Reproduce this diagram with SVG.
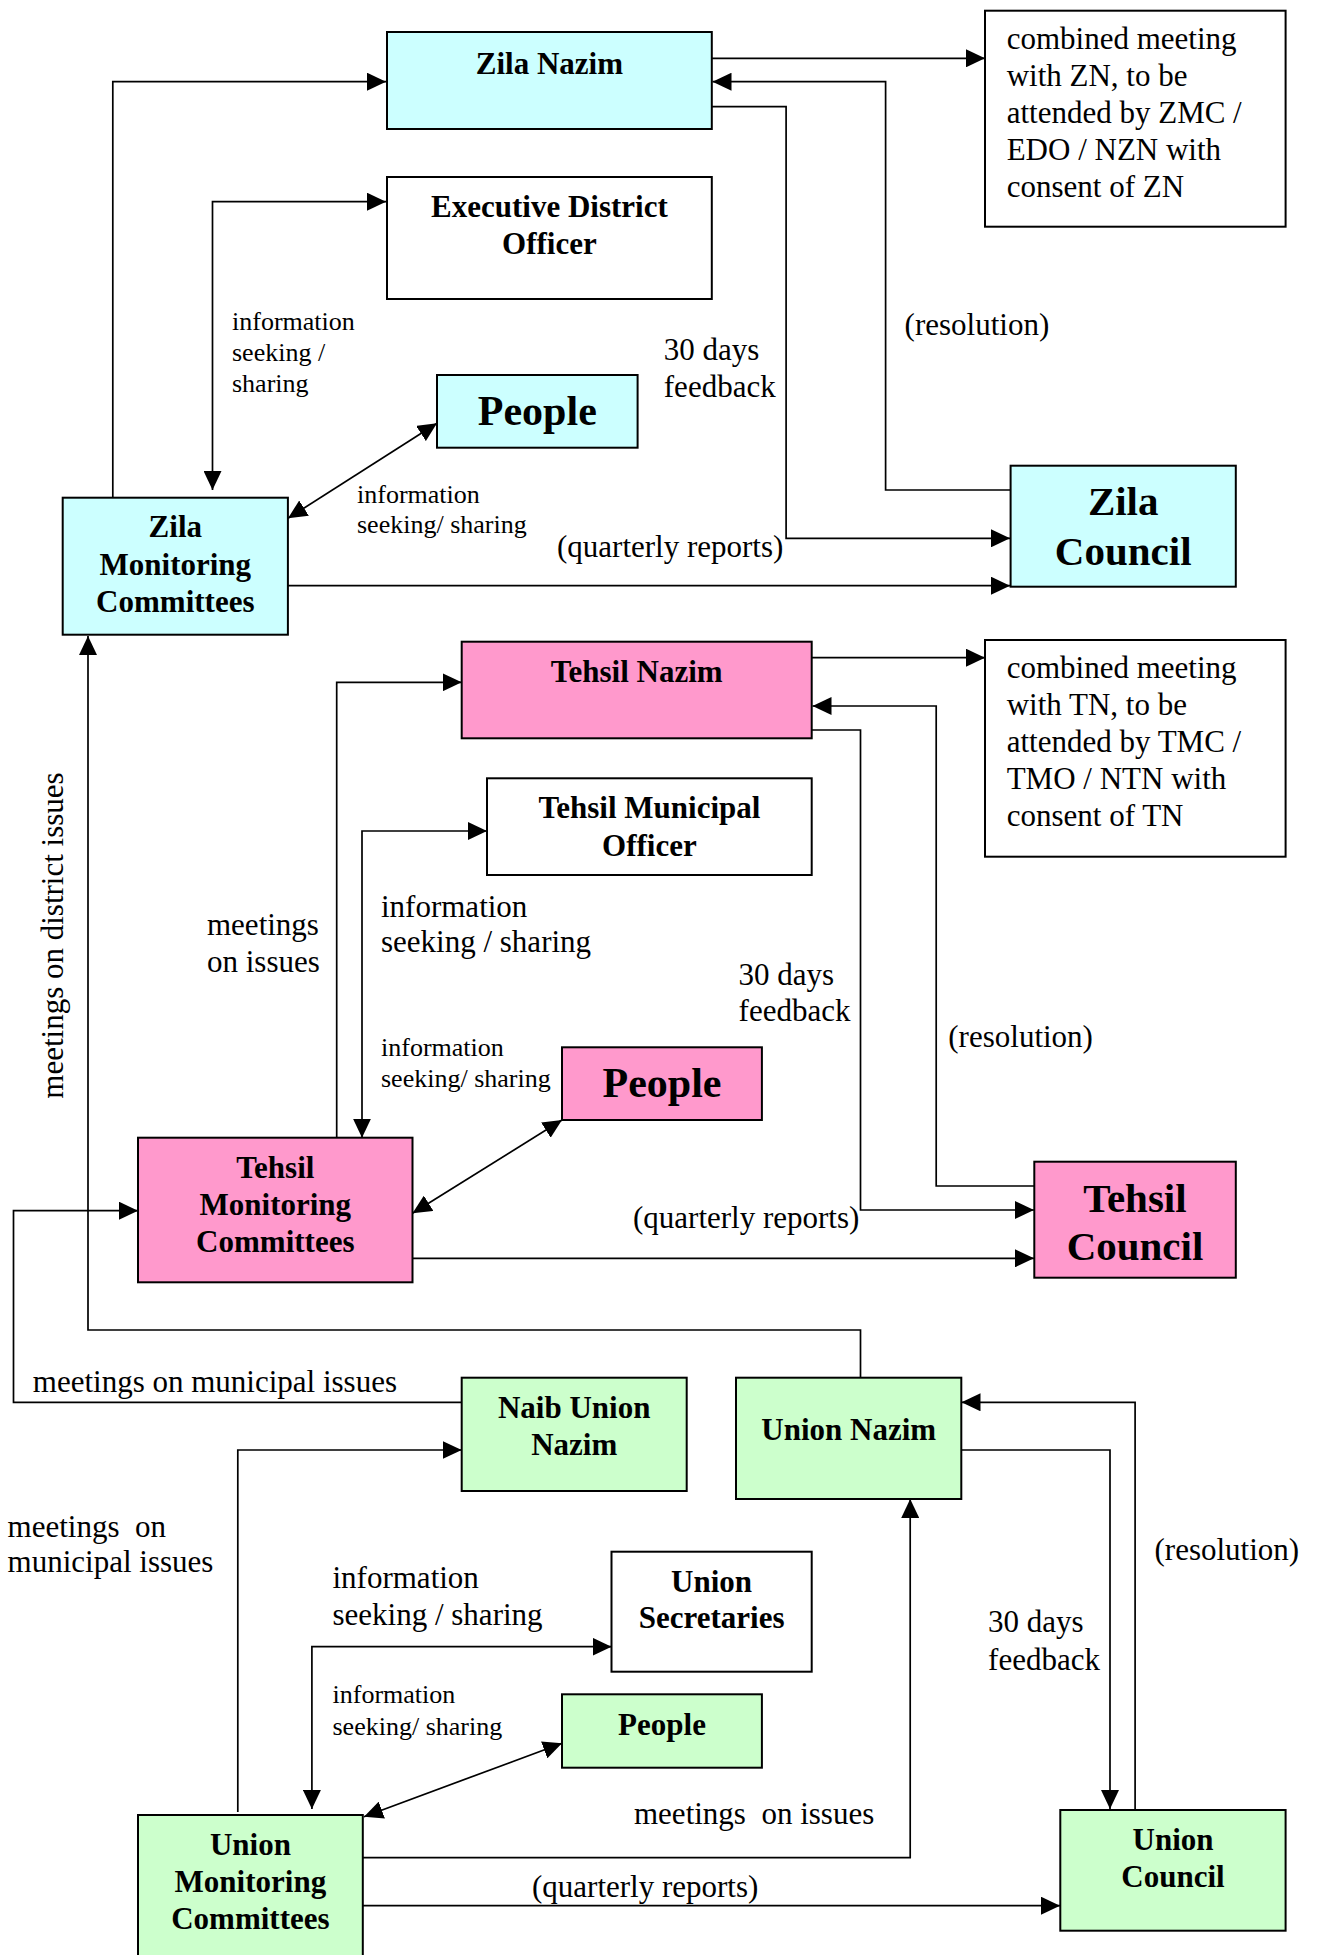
<svg xmlns="http://www.w3.org/2000/svg" width="1318" height="1955" viewBox="0 0 1318 1955">
<style>
.box{stroke:#000;stroke-width:2}
.cy{fill:#CCFFFF}.pk{fill:#FF99CC}.gr{fill:#CCFFCC}.wh{fill:#FFFFFF}
.c{fill:none;stroke:#000;stroke-width:1.7}
.b{font-family:"Liberation Serif","Times New Roman",serif;font-weight:bold;font-size:31px;text-anchor:middle;fill:#000}
.big{font-size:42px}
.r{font-family:"Liberation Serif","Times New Roman",serif;font-size:31px;fill:#000;white-space:pre}
.s{font-size:26px}
</style>
<defs>
<marker id="ah" markerUnits="userSpaceOnUse" markerWidth="20" markerHeight="18" refX="19" refY="9" orient="auto-start-reverse">
<path d="M0,0 L19,9 L0,18 z" fill="#000"/>
</marker>
</defs>
<rect width="1318" height="1955" fill="#FFFFFF"/>

<g id="connectors">
<path class="c" d="M112.8,497 V81.7 H386" marker-end="url(#ah)"/>
<path class="c" d="M212.5,490 V201.7 H386" marker-start="url(#ah)" marker-end="url(#ah)"/>
<path class="c" d="M288,518.3 L437,423.3" marker-start="url(#ah)" marker-end="url(#ah)"/>
<path class="c" d="M712,58.3 H985" marker-end="url(#ah)"/>
<path class="c" d="M1010.6,490 H885.6 V81.7 H712.5" marker-end="url(#ah)"/>
<path class="c" d="M712,106.7 H786.1 V538.3 H1010" marker-end="url(#ah)"/>
<path class="c" d="M288,585.7 H1010" marker-end="url(#ah)"/>
<path class="c" d="M860.5,1377.7 V1330 H88 V636" marker-end="url(#ah)"/>
<path class="c" d="M336.7,1137.7 V682.3 H461.7" marker-end="url(#ah)"/>
<path class="c" d="M362,1137.7 V831 H487" marker-start="url(#ah)" marker-end="url(#ah)"/>
<path class="c" d="M412.5,1213.3 L562,1120" marker-start="url(#ah)" marker-end="url(#ah)"/>
<path class="c" d="M811.7,657.7 H985" marker-end="url(#ah)"/>
<path class="c" d="M1034.3,1186 H936.2 V706 H812.5" marker-end="url(#ah)"/>
<path class="c" d="M811.7,730 H860.5 V1210 H1034" marker-end="url(#ah)"/>
<path class="c" d="M412.5,1258.3 H1034" marker-end="url(#ah)"/>
<path class="c" d="M461.7,1402.3 H13.5 V1210.7 H138" marker-end="url(#ah)"/>
<path class="c" d="M237.8,1812 V1450 H461.7" marker-end="url(#ah)"/>
<path class="c" d="M311.9,1809 V1646.7 H611.5" marker-start="url(#ah)" marker-end="url(#ah)"/>
<path class="c" d="M364,1816.7 L562,1743.3" marker-start="url(#ah)" marker-end="url(#ah)"/>
<path class="c" d="M362.8,1857.7 H910.2 V1499" marker-end="url(#ah)"/>
<path class="c" d="M362.8,1905.7 H1060" marker-end="url(#ah)"/>
<path class="c" d="M1135.1,1810 V1402.3 H961.5" marker-end="url(#ah)"/>
<path class="c" d="M961.3,1450 H1110 V1809" marker-end="url(#ah)"/>
</g>

<g id="zila-nazim"><rect class="box cy" x="387" y="32" width="324.8" height="97"/><text class="b" x="549.4" y="74">Zila Nazim</text></g>
<g id="edo"><rect class="box wh" x="387" y="177" width="324.8" height="122"/><text class="b" x="549.4" y="216.7">Executive District</text><text class="b" x="549.4" y="254">Officer</text></g>
<g id="combined-zn"><rect class="box wh" x="985" y="10.7" width="300.6" height="216"/>
<text class="r" x="1006.7" y="48.5">combined meeting</text><text class="r" x="1006.7" y="85.5">with ZN, to be</text><text class="r" x="1006.7" y="122.5">attended by ZMC /</text><text class="r" x="1006.7" y="159.5">EDO / NZN with</text><text class="r" x="1006.7" y="196.5">consent of ZN</text></g>
<g id="people-zila"><rect class="box cy" x="437" y="375" width="200.6" height="72.7"/><text class="b big" x="537.3" y="425">People</text></g>
<g id="zila-mc"><rect class="box cy" x="62.7" y="497.7" width="225.2" height="137"/><text class="b" x="175.3" y="537.3">Zila</text><text class="b" x="175.3" y="574.5">Monitoring</text><text class="b" x="175.3" y="611.7">Committees</text></g>
<g id="zila-council"><rect class="box cy" x="1010.6" y="465.7" width="225.2" height="121"/><text class="b" x="1123.2" y="515" style="font-size:41px">Zila</text><text class="b" x="1123.2" y="565" style="font-size:41px">Council</text></g>

<g id="tehsil-nazim"><rect class="box pk" x="461.7" y="641.7" width="350" height="96.6"/><text class="b" x="636.7" y="681.7">Tehsil Nazim</text></g>
<g id="tmo"><rect class="box wh" x="487" y="778.3" width="324.7" height="96.7"/><text class="b" x="649.4" y="818.3">Tehsil Municipal</text><text class="b" x="649.4" y="856">Officer</text></g>
<g id="combined-tn"><rect class="box wh" x="985" y="640" width="300.6" height="216.7"/>
<text class="r" x="1006.7" y="678">combined meeting</text><text class="r" x="1006.7" y="715">with TN, to be</text><text class="r" x="1006.7" y="752">attended by TMC /</text><text class="r" x="1006.7" y="789">TMO / NTN with</text><text class="r" x="1006.7" y="826">consent of TN</text></g>
<g id="people-tehsil"><rect class="box pk" x="562" y="1047.3" width="199.9" height="72.7"/><text class="b big" x="662" y="1096.7">People</text></g>
<g id="tehsil-mc"><rect class="box pk" x="138" y="1137.7" width="274.5" height="144.6"/><text class="b" x="275.3" y="1178.3">Tehsil</text><text class="b" x="275.3" y="1215">Monitoring</text><text class="b" x="275.3" y="1251.7">Committees</text></g>
<g id="tehsil-council"><rect class="box pk" x="1034.3" y="1161.7" width="201.5" height="116"/><text class="b" x="1135" y="1211.7" style="font-size:41px">Tehsil</text><text class="b" x="1135" y="1260" style="font-size:41px">Council</text></g>

<g id="naib-union-nazim"><rect class="box gr" x="461.7" y="1377.7" width="225" height="113.3"/><text class="b" x="574.2" y="1417.7">Naib Union</text><text class="b" x="574.2" y="1455">Nazim</text></g>
<g id="union-nazim"><rect class="box gr" x="736" y="1377.7" width="225.3" height="121.3"/><text class="b" x="848.7" y="1440">Union Nazim</text></g>
<g id="union-secretaries"><rect class="box wh" x="611.5" y="1551.7" width="200.2" height="120"/><text class="b" x="711.6" y="1591.7">Union</text><text class="b" x="711.6" y="1628.3">Secretaries</text></g>
<g id="people-union"><rect class="box gr" x="562" y="1694.3" width="199.9" height="73.4"/><text class="b" x="662" y="1735">People</text></g>
<g id="union-mc"><rect class="box gr" x="138" y="1815" width="224.8" height="150"/><text class="b" x="250.4" y="1855">Union</text><text class="b" x="250.4" y="1892.3">Monitoring</text><text class="b" x="250.4" y="1929">Committees</text></g>
<g id="union-council"><rect class="box gr" x="1060.3" y="1810" width="225.3" height="120.7"/><text class="b" x="1173" y="1850">Union</text><text class="b" x="1173" y="1887.3">Council</text></g>

<g id="labels">
<text class="r s" x="232" y="330">information</text><text class="r s" x="232" y="361">seeking /</text><text class="r s" x="232" y="392">sharing</text>
<text class="r" x="663.8" y="360">30 days</text><text class="r" x="663.8" y="397.3">feedback</text>
<text class="r" x="904.6" y="335">(resolution)</text>
<text class="r s" x="357" y="502.7">information</text><text class="r s" x="357" y="533.3">seeking/ sharing</text>
<text class="r" x="557" y="557.3">(quarterly reports)</text>
<text class="r" x="0" y="0" text-anchor="middle" transform="translate(63,935.5) rotate(-90)">meetings on district issues</text>
<text class="r" x="207" y="935">meetings</text><text class="r" x="207" y="971.7">on issues</text>
<text class="r" x="381" y="916.7">information</text><text class="r" x="381" y="951.7">seeking / sharing</text>
<text class="r" x="738.6" y="985">30 days</text><text class="r" x="738.6" y="1020.7">feedback</text>
<text class="r" x="948.3" y="1046.7">(resolution)</text>
<text class="r s" x="381" y="1056">information</text><text class="r s" x="381" y="1086.7">seeking/ sharing</text>
<text class="r" x="633" y="1228.3">(quarterly reports)</text>
<text class="r" x="32.8" y="1391.7">meetings on municipal issues</text>
<text class="r" x="7.6" y="1536.7">meetings  on</text><text class="r" x="7.6" y="1571.7">municipal issues</text>
<text class="r" x="332.5" y="1588.3">information</text><text class="r" x="332.5" y="1625">seeking / sharing</text>
<text class="r" x="1154.5" y="1560">(resolution)</text>
<text class="r" x="988.1" y="1631.7">30 days</text><text class="r" x="988.1" y="1670">feedback</text>
<text class="r s" x="332.5" y="1703.3">information</text><text class="r s" x="332.5" y="1735">seeking/ sharing</text>
<text class="r" x="634" y="1824">meetings  on issues</text>
<text class="r" x="532" y="1896.7">(quarterly reports)</text>
</g>
</svg>
